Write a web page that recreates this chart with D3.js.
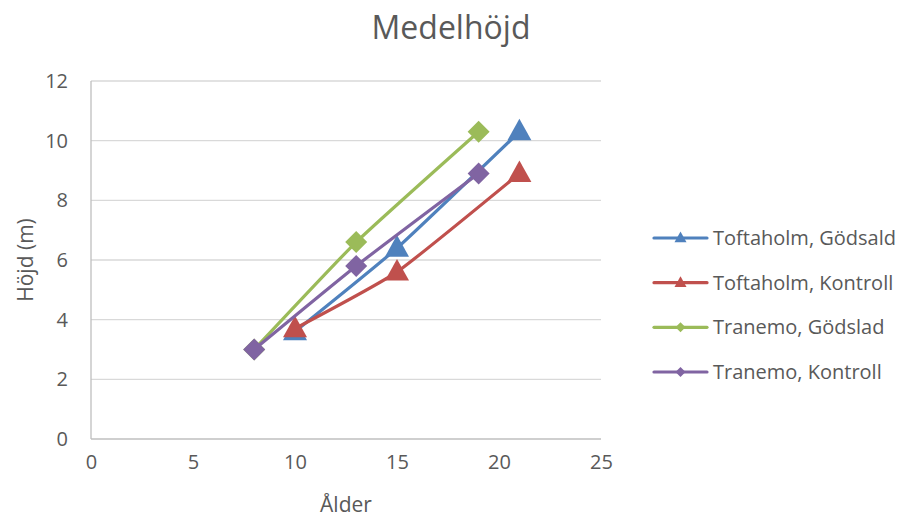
<!DOCTYPE html>
<html>
<head>
<meta charset="utf-8">
<script src="https://cdn.jsdelivr.net/npm/d3@7"></script>
<style>
  body { margin: 0; background: #fff; }
  text { font-family: "Open Sans", "Noto Sans", sans-serif; fill: #595959; }
</style>
</head>
<body>
<div id="chart"></div>
<script>
// data
var seriesNames = ["Toftaholm, Gödsald", "Toftaholm, Kontroll", "Tranemo, Gödslad", "Tranemo, Kontroll"];
var toftaholmAge = [10, 15, 21];
var toftaholmGodsald = [3.6, 6.4, 10.3];
var toftaholmKontroll = [3.7, 5.6, 8.9];
var tranemoAge = [8, 13, 19];
var tranemoGodslad = [3.0, 6.6, 10.3];
var tranemoKontroll = [3.0, 5.8, 8.9];
var xTicks = [0, 5, 10, 15, 20, 25];
var yTicks = [0, 2, 4, 6, 8, 10, 12];

var colors = ["#4F81BD", "#C0504D", "#9BBB59", "#8064A2"];
var markers = ["triangle", "triangle", "diamond", "diamond"];

var series = [
  {name: seriesNames[0], x: toftaholmAge, y: toftaholmGodsald},
  {name: seriesNames[1], x: toftaholmAge, y: toftaholmKontroll},
  {name: seriesNames[2], x: tranemoAge, y: tranemoGodslad},
  {name: seriesNames[3], x: tranemoAge, y: tranemoKontroll}
];

var W = 904, H = 519;
var margin = {left: 91, right: 303, top: 81, bottom: 80};

var svg = d3.select("#chart").append("svg")
  .attr("width", W)
  .attr("height", H);

var x = d3.scaleLinear().domain([0, 25]).range([margin.left, W - margin.right]);
var y = d3.scaleLinear().domain([0, 12]).range([H - margin.bottom, margin.top]);

// gridlines
svg.append("g")
  .selectAll("line")
  .data(yTicks.slice(1))
  .enter().append("line")
  .attr("x1", x(0)).attr("x2", x(25))
  .attr("y1", function(d){ return y(d); })
  .attr("y2", function(d){ return y(d); })
  .style("stroke", "#D9D9D9")
  .style("stroke-width", 1.3);

// axes
var xAxis = svg.append("g")
  .attr("transform", "translate(0," + y(0) + ")")
  .call(d3.axisBottom(x).tickValues(xTicks).tickSize(0).tickPadding(16));
var yAxis = svg.append("g")
  .attr("transform", "translate(" + x(0) + ",0)")
  .call(d3.axisLeft(y).tickValues(yTicks).tickSize(0).tickPadding(23));

[xAxis, yAxis].forEach(function(a){
  a.select(".domain").style("stroke", "#BFBFBF").style("stroke-width", 1.3);
  a.selectAll("text").style("font-size", "20px").style("fill", "#595959")
    .style("font-family", "'Open Sans', sans-serif");
});
yAxis.select(".domain").attr("d", "M0," + y(12) + "V" + y(0));
xAxis.select(".domain").attr("d", "M" + x(0) + ",0H" + x(25));

// titles
svg.append("text")
  .attr("x", 451).attr("y", 39)
  .attr("text-anchor", "middle")
  .style("font-size", "32px")
  .text("Medelhöjd");

svg.append("text")
  .attr("x", x(12.5)).attr("y", 512)
  .attr("text-anchor", "middle")
  .style("font-size", "21px")
  .text("Ålder");

svg.append("text")
  .attr("transform", "translate(33," + y(6) + ") rotate(-90)")
  .attr("text-anchor", "middle")
  .style("font-size", "21px")
  .text("Höjd (m)");

var line = d3.line()
  .x(function(d){ return x(d[0]); })
  .y(function(d){ return y(d[1]); })
  .curve(d3.curveCardinal.tension(0.55));

function markerPath(type, s) {
  if (type === "triangle") {
    var h = s * 0.9;
    return "M0," + (-h * 0.6) + "L" + (s / 2) + "," + (h * 0.4) + "L" + (-s / 2) + "," + (h * 0.4) + "Z";
  }
  var r = s / 2;
  return "M0," + (-r) + "L" + r + ",0L0," + r + "L" + (-r) + ",0Z";
}

series.forEach(function(s, i){
  var pts = d3.zip(s.x, s.y);
  var g = svg.append("g");
  g.append("path")
    .attr("d", line(pts))
    .attr("fill", "none")
    .style("stroke", colors[i])
    .style("stroke-width", 3.2)
    .style("stroke-linecap", "round");
  g.selectAll("path.mk")
    .data(pts)
    .enter().append("path")
    .attr("class", "mk")
    .attr("d", markerPath(markers[i], markers[i] === "triangle" ? 24 : 22))
    .attr("transform", function(d){ return "translate(" + x(d[0]) + "," + y(d[1]) + ")"; })
    .style("fill", colors[i]);
});

// legend
var legend = svg.append("g").attr("transform", "translate(654,238)");
var rowY = d3.scalePoint().domain(seriesNames).range([0, 134]);
series.forEach(function(s, i){
  var row = legend.append("g").attr("transform", "translate(0," + rowY(s.name) + ")");
  row.append("line")
    .attr("x1", 0).attr("x2", 53)
    .style("stroke", colors[i])
    .style("stroke-width", 3.2)
    .style("stroke-linecap", "round");
  row.append("path")
    .attr("d", markerPath(markers[i], markers[i] === "triangle" ? 12 : 10))
    .attr("transform", "translate(26.5,0)")
    .style("fill", colors[i]);
  row.append("text")
    .attr("x", 59).attr("y", 7)
    .style("font-size", "20px")
    .text(s.name);
});
</script>
</body>
</html>
